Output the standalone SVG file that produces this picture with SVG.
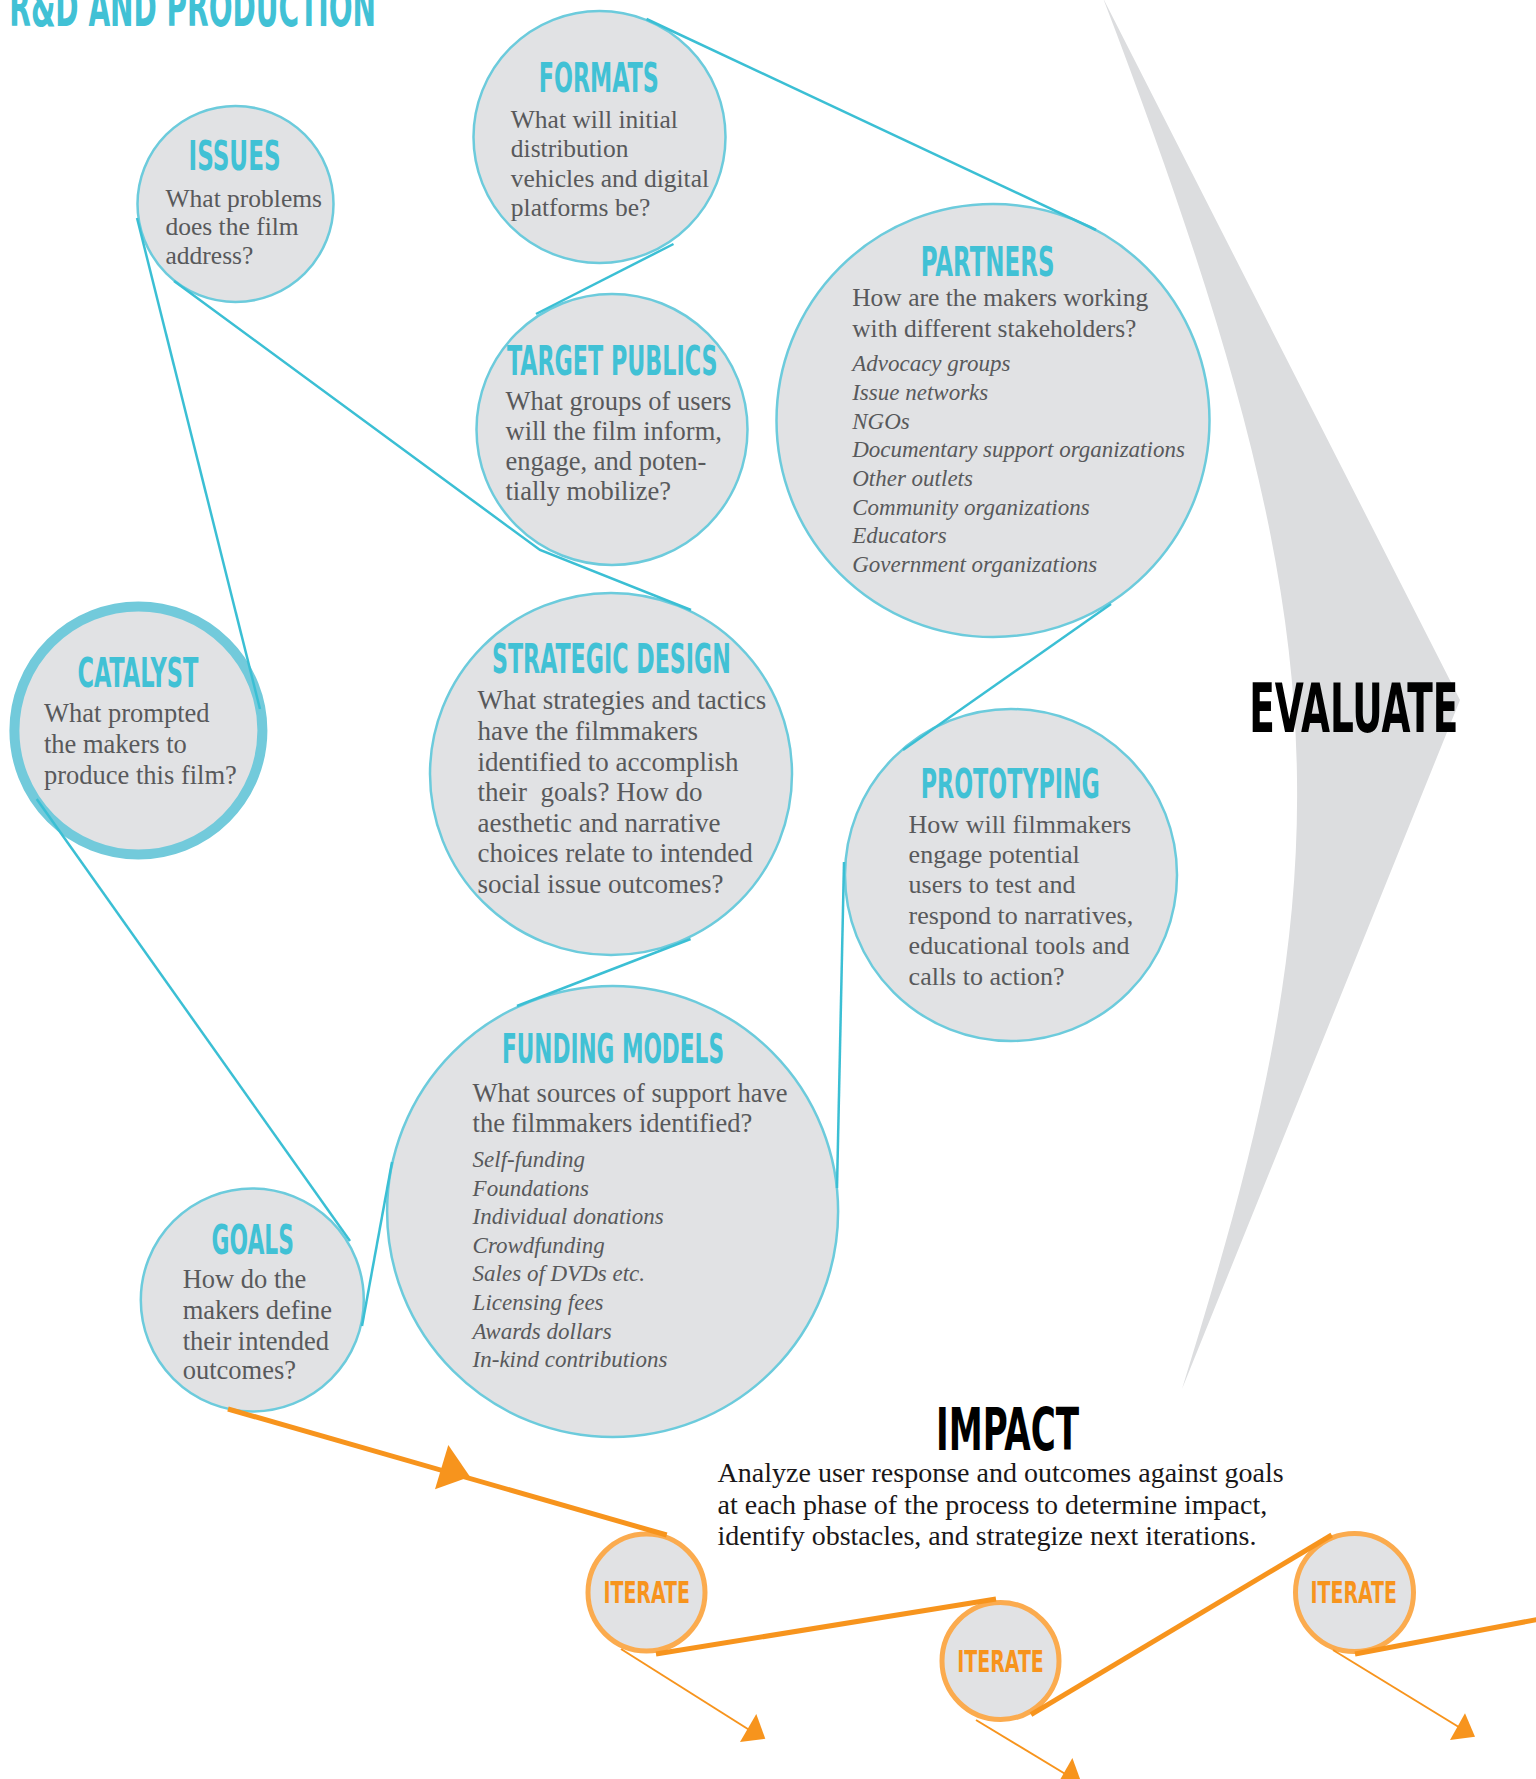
<svg xmlns="http://www.w3.org/2000/svg" width="1536" height="1779" viewBox="0 0 1536 1779">
<style>
.bg{fill:#ffffff}
.node{fill:#e1e2e4;stroke:#6ccbdc;stroke-width:2.5}
.cat{fill:#e1e2e4;stroke:#72cadb;stroke-width:10}
.it{fill:#e1e2e4;stroke:#fbab4e;stroke-width:5}
.hd{font-family:"DejaVu Sans Condensed","DejaVu Sans",sans-serif;font-weight:bold;font-stretch:condensed;fill:#41c1d5}
.ith{font-family:"DejaVu Sans Condensed","DejaVu Sans",sans-serif;font-weight:bold;font-stretch:condensed;fill:#f7941d;font-size:31px}
.big{font-family:"DejaVu Sans Condensed","DejaVu Sans",sans-serif;font-weight:bold;font-stretch:condensed;fill:#000000}
.bd{font-family:"Liberation Serif","Times New Roman",serif;fill:#58595b}
.it2{font-family:"Liberation Serif","Times New Roman",serif;font-style:italic;fill:#58595b;font-size:23px}
.imp{font-family:"Liberation Serif","Times New Roman",serif;fill:#1a1718;font-size:28px}
.tl{fill:none;stroke:#3bbfd4;stroke-width:2.5}
.ot{fill:none;stroke:#f7941d;stroke-width:5}
.on{fill:none;stroke:#f7941d;stroke-width:2}
.oa{fill:#f7941d}
</style>
<rect class="bg" x="0" y="0" width="1536" height="1779"/>

<g id="evaluate-arrow">
<path d="M1103,-2 L1460,700 L1182,1389 C1240,1200 1300,1000 1297,780 C1295,560 1230,330 1103,-2 Z" fill="#dcdddf"/>
</g>

<text id="title" class="hd" x="9.3" y="26" font-size="54" textLength="366.7" lengthAdjust="spacingAndGlyphs">R&amp;D AND PRODUCTION</text>

<g id="node-issues">
<circle class="node" cx="235.5" cy="204" r="98"/>
<text class="hd" x="188.6" y="170" font-size="40" textLength="92" lengthAdjust="spacingAndGlyphs">ISSUES</text>
<text class="bd" font-size="25.5"><tspan x="165.5" y="206.7">What problems</tspan><tspan x="165.5" y="235.4">does the film</tspan><tspan x="165.5" y="264">address?</tspan></text>
</g>

<g id="node-formats">
<circle class="node" cx="599.5" cy="137" r="126"/>
<text class="hd" x="538.8" y="91.8" font-size="40" textLength="120" lengthAdjust="spacingAndGlyphs">FORMATS</text>
<text class="bd" font-size="25.5"><tspan x="510.8" y="128">What will initial</tspan><tspan x="510.8" y="157">distribution</tspan><tspan x="510.8" y="186.5">vehicles and digital</tspan><tspan x="510.8" y="215.5">platforms be?</tspan></text>
</g>

<g id="node-target-publics">
<circle class="node" cx="612" cy="429.5" r="135.5"/>
<text class="hd" x="507" y="375" font-size="40" textLength="210.5" lengthAdjust="spacingAndGlyphs">TARGET PUBLICS</text>
<text class="bd" font-size="26.5"><tspan x="505.5" y="409.5">What groups of users</tspan><tspan x="505.5" y="439.5">will the film inform,</tspan><tspan x="505.5" y="469.5">engage, and poten-</tspan><tspan x="505.5" y="499.5">tially mobilize?</tspan></text>
</g>

<g id="node-partners">
<circle class="node" cx="993" cy="420.5" r="216.5"/>
<text class="hd" x="920.8" y="275.5" font-size="40" textLength="133.7" lengthAdjust="spacingAndGlyphs">PARTNERS</text>
<text class="bd" font-size="25.5"><tspan x="852.2" y="306">How are the makers working</tspan><tspan x="852.2" y="336.8">with different stakeholders?</tspan></text>
<text class="it2"><tspan x="852.2" y="371.2">Advocacy groups</tspan><tspan x="852.2" y="400">Issue networks</tspan><tspan x="852.2" y="428.6">NGOs</tspan><tspan x="852.2" y="457.3">Documentary support organizations</tspan><tspan x="852.2" y="486">Other outlets</tspan><tspan x="852.2" y="514.7">Community organizations</tspan><tspan x="852.2" y="543.4">Educators</tspan><tspan x="852.2" y="572.1">Government organizations</tspan></text>
</g>

<g id="node-catalyst">
<circle class="cat" cx="138.4" cy="730.5" r="124"/>
<text class="hd" x="77.4" y="686.5" font-size="40" textLength="121" lengthAdjust="spacingAndGlyphs">CATALYST</text>
<text class="bd" font-size="26.5"><tspan x="44" y="722">What prompted</tspan><tspan x="44" y="753.3">the makers to</tspan><tspan x="44" y="783.6">produce this film?</tspan></text>
</g>

<g id="node-strategic-design">
<circle class="node" cx="611" cy="774" r="181"/>
<text class="hd" x="492" y="673" font-size="40" textLength="238.8" lengthAdjust="spacingAndGlyphs">STRATEGIC DESIGN</text>
<text class="bd" font-size="27" xml:space="preserve"><tspan x="477.6" y="709.2">What strategies and tactics</tspan><tspan x="477.6" y="739.9">have the filmmakers</tspan><tspan x="477.6" y="770.5">identified to accomplish</tspan><tspan x="477.6" y="801">their  goals? How do</tspan><tspan x="477.6" y="831.7">aesthetic and narrative</tspan><tspan x="477.6" y="862.3">choices relate to intended</tspan><tspan x="477.6" y="893">social issue outcomes?</tspan></text>
</g>

<g id="node-prototyping">
<circle class="node" cx="1011" cy="875" r="166"/>
<text class="hd" x="920.8" y="798" font-size="40" textLength="179" lengthAdjust="spacingAndGlyphs">PROTOTYPING</text>
<text class="bd" font-size="26"><tspan x="908.6" y="832.5">How will filmmakers</tspan><tspan x="908.6" y="862.8">engage potential</tspan><tspan x="908.6" y="893">users to test and</tspan><tspan x="908.6" y="923.6">respond to narratives,</tspan><tspan x="908.6" y="954.2">educational tools and</tspan><tspan x="908.6" y="984.5">calls to action?</tspan></text>
</g>

<g id="node-funding-models">
<circle class="node" cx="612.6" cy="1211.5" r="225.5"/>
<text class="hd" x="502" y="1063.3" font-size="40" textLength="222" lengthAdjust="spacingAndGlyphs">FUNDING MODELS</text>
<text class="bd" font-size="26.5"><tspan x="472.6" y="1101.5">What sources of support have</tspan><tspan x="472.6" y="1132">the filmmakers identified?</tspan></text>
<text class="it2"><tspan x="472.6" y="1166.5">Self-funding</tspan><tspan x="472.6" y="1195.5">Foundations</tspan><tspan x="472.6" y="1224">Individual donations</tspan><tspan x="472.6" y="1252.6">Crowdfunding</tspan><tspan x="472.6" y="1281">Sales of DVDs etc.</tspan><tspan x="472.6" y="1310">Licensing fees</tspan><tspan x="472.6" y="1338.6">Awards dollars</tspan><tspan x="472.6" y="1367.3">In-kind contributions</tspan></text>
</g>

<g id="node-goals">
<circle class="node" cx="252.3" cy="1300" r="111.5"/>
<text class="hd" x="211.6" y="1253.6" font-size="40" textLength="82.3" lengthAdjust="spacingAndGlyphs">GOALS</text>
<text class="bd" font-size="26.5"><tspan x="182.7" y="1288.3">How do the</tspan><tspan x="182.7" y="1319">makers define</tspan><tspan x="182.7" y="1349.5">their intended</tspan><tspan x="182.7" y="1379">outcomes?</tspan></text>
</g>

<g id="label-evaluate">
<text class="big" x="1249.3" y="731.7" font-size="67" textLength="209" lengthAdjust="spacingAndGlyphs">EVALUATE</text>
</g>

<g id="label-impact">
<text class="big" x="936" y="1450" font-size="58" textLength="143" lengthAdjust="spacingAndGlyphs">IMPACT</text>
<text class="imp"><tspan x="717.6" y="1482">Analyze user response and outcomes against goals</tspan><tspan x="717.6" y="1513.5">at each phase of the process to determine impact,</tspan><tspan x="717.6" y="1545">identify obstacles, and strategize next iterations.</tspan></text>
</g>

<g id="node-iterate-1">
<circle class="it" cx="646.5" cy="1592.5" r="58.5"/>
<text class="ith" x="603.4" y="1602.5" textLength="86.5" lengthAdjust="spacingAndGlyphs">ITERATE</text>
</g>
<g id="node-iterate-2">
<circle class="it" cx="1000.5" cy="1661" r="58.5"/>
<text class="ith" x="957.3" y="1671.5" textLength="86.5" lengthAdjust="spacingAndGlyphs">ITERATE</text>
</g>
<g id="node-iterate-3">
<circle class="it" cx="1354.5" cy="1592.5" r="59"/>
<text class="ith" x="1310.5" y="1602.7" textLength="86.5" lengthAdjust="spacingAndGlyphs">ITERATE</text>
</g>

<g id="connectors">
<path class="tl" d="M137,218 L260,709"/>
<path class="tl" d="M174,281 L540,550 L691,610"/>
<path class="tl" d="M673.5,244 L536,314"/>
<path class="tl" d="M646.5,19 L1096,230"/>
<path class="tl" d="M1111,604 L903,750"/>
<path class="tl" d="M844,862 L837,1188"/>
<path class="tl" d="M392,1162 L362,1326"/>
<path class="tl" d="M36.7,799 L350,1241"/>
<path class="tl" d="M690.6,939 L517,1006"/>

<path class="ot" d="M228,1409 L666.7,1535"/>
<polygon class="oa" points="448.3,1445 435,1489.3 470,1476.7"/>
<path class="ot" d="M656,1654 L996,1599"/>
<path class="ot" d="M1031,1714.7 L1331.7,1535"/>
<path class="ot" d="M1355,1654 L1540,1619"/>

<path class="on" d="M621,1649 L751,1731"/>
<polygon class="oa" points="756.3,1714 740,1742 765.3,1738.8"/>
<path class="on" d="M976,1720 L1067,1775"/>
<polygon class="oa" points="1072.4,1758 1056.5,1786 1081.5,1783"/>
<path class="on" d="M1333,1650 L1462,1729"/>
<polygon class="oa" points="1465,1713.3 1450,1740 1475,1736.7"/>
</g>
</svg>
